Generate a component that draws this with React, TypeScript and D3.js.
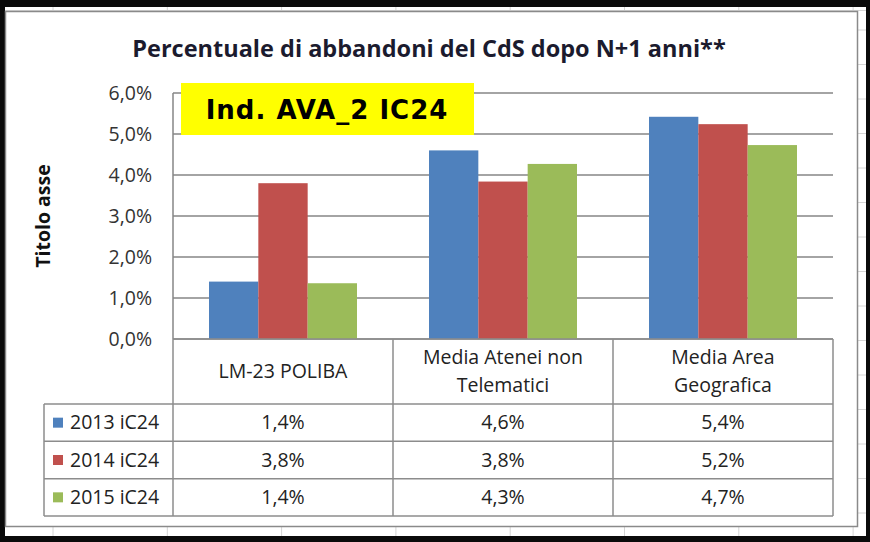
import * as d3 from 'd3';

// data
const categories = ['LM-23 POLIBA', 'Media Atenei non Telematici', 'Media Area Geografica'];
const categoryLines = [['LM-23 POLIBA'], ['Media Atenei non', 'Telematici'], ['Media Area', 'Geografica']];
const series = ['2013 iC24', '2014 iC24', '2015 iC24'];
const values2013 = [1.4, 4.6, 5.42];
const values2014 = [3.8, 3.84, 5.24];
const values2015 = [1.36, 4.27, 4.73];
const seriesValues = [values2013, values2014, values2015];
const colors = ['#4f81bd', '#c0504d', '#9bbb59'];
const yTicks = [0, 1, 2, 3, 4, 5, 6];

const W = 870;
const H = 542;
const font = '"Open Sans", "Noto Sans", sans-serif';

const itLocale = d3.formatLocale({ decimal: ',', thousands: '.', grouping: [3], currency: ['', '€'] });
const fmt = (v: number) => itLocale.format('.1f')(v) + '%';

export default function App() {
  const plot = { left: 173, right: 833, top: 93, bottom: 339 };
  const y = d3.scaleLinear().domain([0, 6]).range([plot.bottom, plot.top]);
  const x = d3.scaleBand<string>().domain(categories).range([plot.left, plot.right]);
  const inner = d3
    .scaleBand<string>()
    .domain(series)
    .range([36, x.bandwidth() - 36]);
  const rows = d3.scaleBand<string>().domain(series).range([404, 516]);
  const tableLeft = 44;

  // spreadsheet gridlines around the chart
  const sheetCols = d3.range(53, 866, 114.3);
  const sheetRows = d3.range(30, 536, 34.5);

  return (
    <svg width={W} height={H} style={{ position: 'absolute', left: 0, top: 0 }}>
      <rect x={0} y={0} width={W} height={H} fill="#0a0a0a" />
      <rect x={5} y={7} width={861} height={529} fill="#ffffff" />
      <g stroke="#d4d4d4" strokeWidth={1}>
        <line x1={5} x2={866} y1={10.5} y2={10.5} />
        {sheetCols.map((c) => (
          <line key={'c' + c} x1={c} x2={c} y1={7} y2={536} />
        ))}
        {sheetRows.map((r) => (
          <line key={'r' + r} x1={858} x2={866} y1={r} y2={r} />
        ))}
      </g>
      {/* chart area */}
      <rect x={5.5} y={11.5} width={852} height={515} fill="#ffffff" stroke="#8a8a8a" strokeWidth={1.5} />

      <text
        x={429}
        y={57}
        textAnchor="middle"
        fontFamily={font}
        fontWeight="bold"
        fontSize={23.5}
        fill="#1b1b2e"
      >
        Percentuale di abbandoni del CdS dopo N+1 anni**
      </text>

      {/* gridlines */}
      <g stroke="#868686" strokeWidth={1.5}>
        {yTicks.map((t) => (
          <line key={t} x1={plot.left} x2={plot.right} y1={y(t)} y2={y(t)} />
        ))}
        <line x1={plot.left} x2={plot.left} y1={plot.top} y2={plot.bottom} />
      </g>

      {/* y tick labels */}
      <g fontFamily={font} fontSize={19.5} fill="#333">
        {yTicks.map((t) => (
          <text key={t} x={152} y={y(t)} dy="0.35em" textAnchor="end">
            {fmt(t)}
          </text>
        ))}
      </g>

      <text
        transform={`translate(50,${216}) rotate(-90)`}
        textAnchor="middle"
        fontFamily={font}
        fontWeight="bold"
        fontSize={19.5}
        fill="#111"
      >
        Titolo asse
      </text>

      {/* bars */}
      {categories.map((c, ci) => (
        <g key={c} transform={`translate(${x(c)},0)`}>
          {series.map((s, si) => {
            const v = seriesValues[si][ci];
            return (
              <rect
                key={s}
                x={inner(s)}
                y={y(v)}
                width={inner.bandwidth()}
                height={y(0) - y(v)}
                fill={colors[si]}
              />
            );
          })}
        </g>
      ))}

      {/* yellow label */}
      <rect x={181} y={83} width={293} height={52} fill="#ffff00" />
      <text
        x={327}
        y={110}
        dy="0.35em"
        textAnchor="middle"
        fontFamily='"DejaVu Sans", Verdana, sans-serif'
        fontWeight="bold"
        fontSize={26}
        letterSpacing={1}
        fill="#000"
      >
        Ind. AVA_2 IC24
      </text>

      {/* data table */}
      <g stroke="#8c8c8c" strokeWidth={1.5} fill="none">
        <line x1={plot.left} x2={plot.right} y1={y(0)} y2={y(0)} />
        {categories.map((c) => (
          <line key={c} x1={x(c)} x2={x(c)} y1={y(0)} y2={516} />
        ))}
        <line x1={plot.right} x2={plot.right} y1={y(0)} y2={516} />
        {series.map((s) => (
          <line key={s} x1={tableLeft} x2={plot.right} y1={rows(s)} y2={rows(s)} />
        ))}
        <line x1={tableLeft} x2={plot.right} y1={516} y2={516} />
        <line x1={tableLeft} x2={tableLeft} y1={404} y2={516} />
      </g>

      <g fontFamily={font} fontSize={19.5} fill="#222" textAnchor="middle">
        {categories.map((c, ci) => {
          const lines = categoryLines[ci];
          const cx = (x(c) ?? 0) + x.bandwidth() / 2;
          const mid = (y(0) + 404) / 2;
          return lines.map((l, li) => (
            <text key={c + li} x={cx} y={mid + (li - (lines.length - 1) / 2) * 28} dy="0.35em">
              {l}
            </text>
          ));
        })}
        {series.map((s, si) =>
          categories.map((c, ci) => (
            <text
              key={s + c}
              x={(x(c) ?? 0) + x.bandwidth() / 2}
              y={(rows(s) ?? 0) + rows.bandwidth() / 2}
              dy="0.35em"
            >
              {fmt(seriesValues[si][ci])}
            </text>
          ))
        )}
      </g>

      {/* legend keys */}
      {series.map((s, si) => (
        <g key={s} transform={`translate(0,${(rows(s) ?? 0) + rows.bandwidth() / 2})`}>
          <rect x={53} y={-5} width={10} height={10} fill={colors[si]} />
          <text x={70} dy="0.35em" fontFamily={font} fontSize={19.5} fill="#222">
            {s}
          </text>
        </g>
      ))}
    </svg>
  );
}
